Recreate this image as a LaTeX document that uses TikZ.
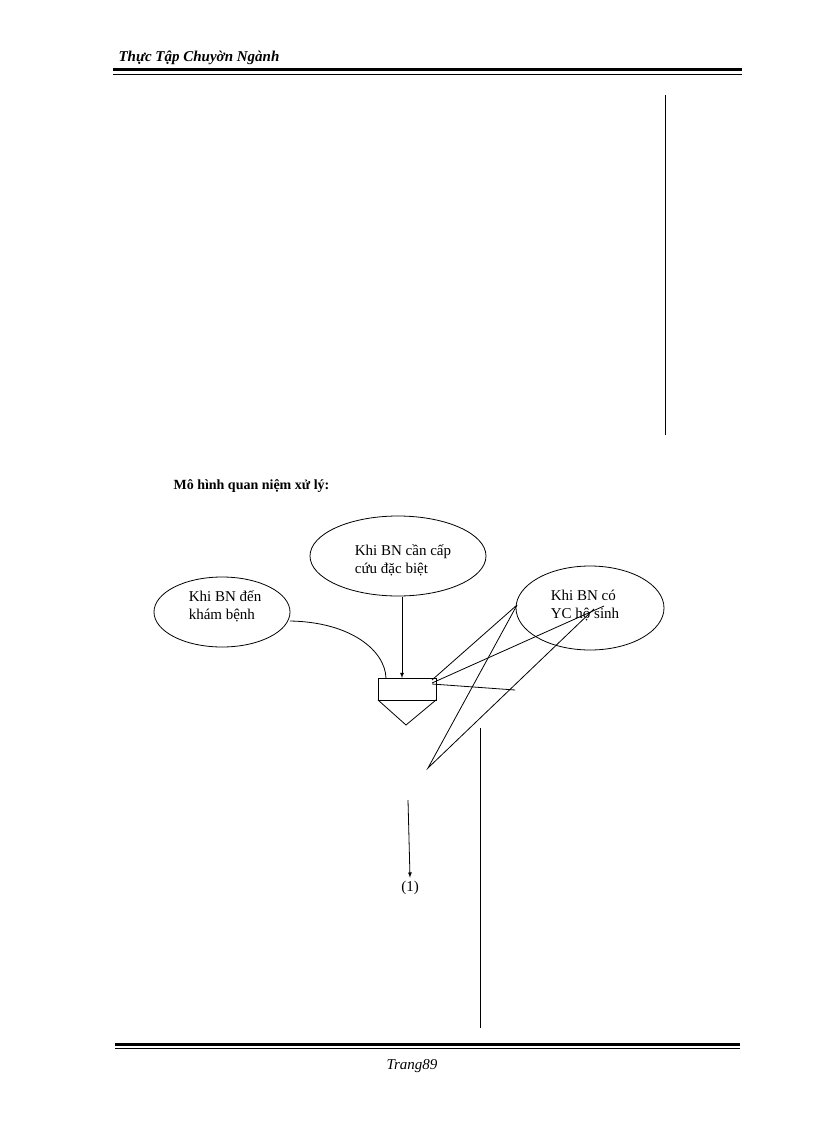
\documentclass[tikz,border=0pt]{standalone}
\usepackage{fontspec}
\setmainfont{Liberation Serif}
\begin{document}
\begin{tikzpicture}[x=1pt,y=-1pt,
  oval/.style={draw,ellipse,inner sep=0pt,align=left,font=\fontsize{15}{18}\selectfont},
  ln/.style={line width=0.8pt}]
\useasboundingbox (0,0) rectangle (816,1123);
\node[anchor=west,font=\fontsize{15}{18}\selectfont\bfseries\itshape] (hdr) at (115,58) {Thực Tập Chuyờn Ngành};
\draw[line width=3pt] (113,70) -- (742,70);
\draw[line width=1pt] (113,74.5) -- (742,74.5);
\draw[ln] (665,95) -- (665,435);
\node[anchor=west,font=\fontsize{14}{17}\selectfont\bfseries] (ttl) at (170,486) {Mô hình quan niệm xử lý:};
\draw[ln] (222,612) ellipse (68 and 35);
\node[font=\fontsize{15}{18}\selectfont,align=left] (e1) at (225,606) {Khi BN đến\\khám bệnh};
\draw[ln] (398,556) ellipse (88 and 40);
\node[font=\fontsize{15}{18}\selectfont,align=left] (e2) at (403,560) {Khi BN cần cấp\\cứu đặc biệt};
\draw[ln] (590,608) ellipse (74 and 42);
\node[font=\fontsize{15}{18}\selectfont,align=left] (e3) at (585,606) {Khi BN có\\YC hộ sinh};
\coordinate (bx) at (378,678);
\draw[ln] (378,678) rectangle (436,700);
\draw[ln] (378,700) -- (406,725) -- (436,700);
\draw[ln,-latex] (402,597) -- (402,678);
\draw[ln] (290,621) .. controls (350,622) and (385,650) .. (386,678);
\coordinate (p1) at (517,605);
\coordinate (p2) at (604,606);
\coordinate (q) at (428,768);
\draw[ln] (p1) -- (432,680);
\draw[ln] (p1) -- (q) -- (594,609);
\draw[ln] (p2) -- (432,683);
\draw[ln] (432,684) -- (515,690);
\draw[ln] (480,728) -- (480,1028);
\node[font=\fontsize{15}{18}\selectfont] (one) at (410,888) {(1)};
\draw[ln,-latex] (408,800) -- (one.north);
\draw[line width=3pt] (115,1044) -- (740,1044);
\draw[line width=1pt] (115,1048.5) -- (740,1048.5);
\node[font=\fontsize{15}{18}\selectfont\itshape] (pg) at (412,1066) {Trang89};
\end{tikzpicture}
\end{document}
